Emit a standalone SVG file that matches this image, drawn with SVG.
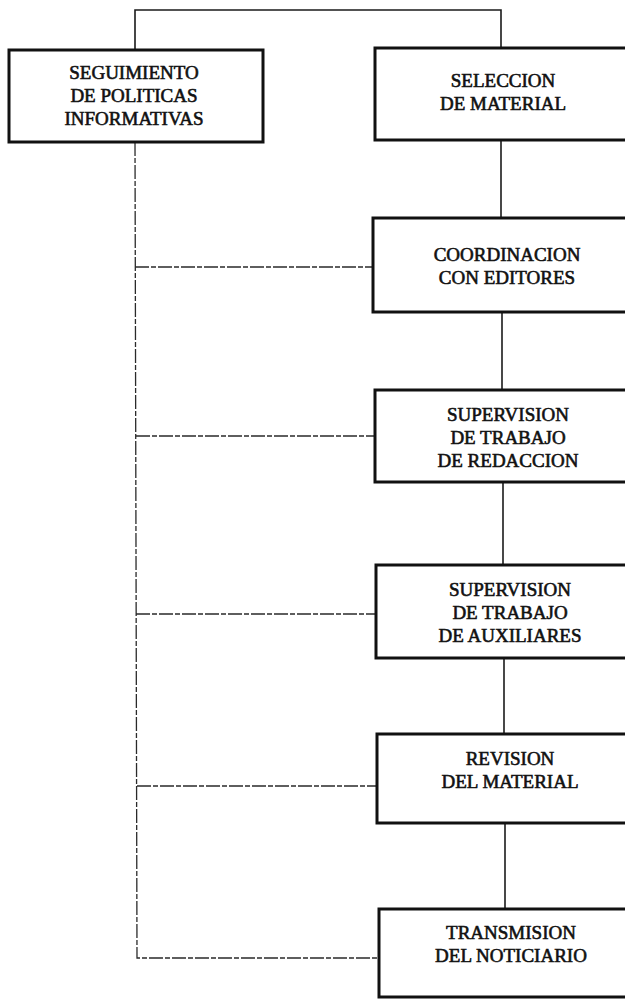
<svg xmlns="http://www.w3.org/2000/svg" width="625" height="1004" viewBox="0 0 625 1004">
<style>
.box{fill:#fff;stroke:#111;stroke-width:3}
.t{font-family:"Liberation Serif","Times New Roman",serif;font-size:19px;fill:#111;stroke:#111;stroke-width:0.6;text-anchor:middle}
.c{fill:none;stroke:#1a1a1a;stroke-width:1.6}
.d{fill:none;stroke:#2a2a2a;stroke-width:1.3;stroke-dasharray:14 2 5 2}
</style>
<rect width="625" height="1004" fill="#fff"/>
<g id="connectors">
<polyline class="c" points="135,50 135,10 501,10 501,48"/>
<line class="c" x1="501" y1="140" x2="501" y2="218"/>
<line class="c" x1="502" y1="312" x2="502" y2="390"/>
<line class="c" x1="503" y1="482" x2="503" y2="565"/>
<line class="c" x1="504" y1="658" x2="504" y2="734"/>
<line class="c" x1="505" y1="823" x2="505" y2="909"/>
<polyline class="d" points="135,142 137,958 378,958"/>
<line class="d" x1="135" y1="267" x2="373" y2="267"/>
<line class="d" x1="136" y1="436" x2="375" y2="436"/>
<line class="d" x1="136" y1="614" x2="376" y2="614"/>
<line class="d" x1="137" y1="786" x2="377" y2="786"/>
</g>
<g id="n1"><rect class="box" x="9" y="50" width="254" height="92"/>
<text class="t"><tspan x="134" y="79">SEGUIMIENTO</tspan><tspan x="134" y="102">DE POLITICAS</tspan><tspan x="134" y="125">INFORMATIVAS</tspan></text></g>
<g id="n2"><rect class="box" x="375" y="48" width="262" height="92"/>
<text class="t"><tspan x="503" y="87">SELECCION</tspan><tspan x="503" y="110">DE MATERIAL</tspan></text></g>
<g id="n3"><rect class="box" x="373" y="218" width="264" height="94"/>
<text class="t"><tspan x="507" y="261">COORDINACION</tspan><tspan x="507" y="284">CON EDITORES</tspan></text></g>
<g id="n4"><rect class="box" x="375" y="390" width="262" height="92"/>
<text class="t"><tspan x="508" y="421">SUPERVISION</tspan><tspan x="508" y="444">DE TRABAJO</tspan><tspan x="508" y="467">DE REDACCION</tspan></text></g>
<g id="n5"><rect class="box" x="376" y="565" width="262" height="93"/>
<text class="t"><tspan x="510" y="596">SUPERVISION</tspan><tspan x="510" y="619">DE TRABAJO</tspan><tspan x="510" y="642">DE AUXILIARES</tspan></text></g>
<g id="n6"><rect class="box" x="377" y="734" width="262" height="89"/>
<text class="t"><tspan x="510" y="765">REVISION</tspan><tspan x="510" y="788">DEL MATERIAL</tspan></text></g>
<g id="n7"><rect class="box" x="379" y="909" width="262" height="88"/>
<text class="t"><tspan x="511" y="939">TRANSMISION</tspan><tspan x="511" y="962">DEL NOTICIARIO</tspan></text></g>
</svg>
